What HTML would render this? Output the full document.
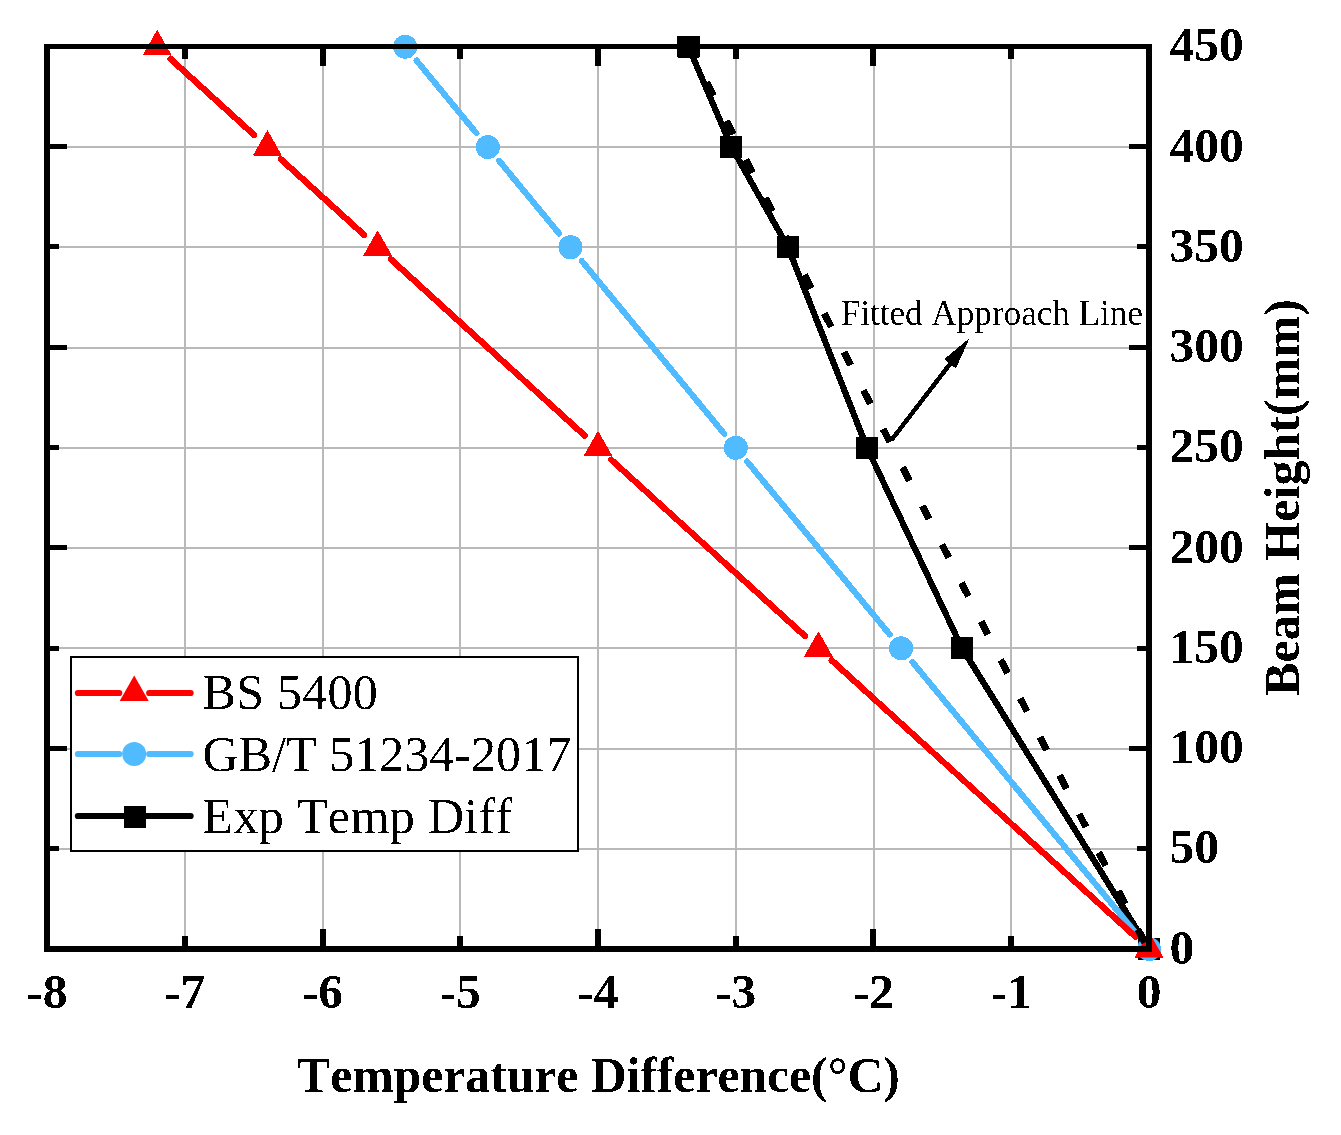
<!DOCTYPE html><html><head><meta charset="utf-8"><style>html,body{margin:0;padding:0;background:#fff;}svg{display:block;}text{font-family:"Liberation Serif",serif;font-variant-ligatures:none;font-feature-settings:"liga" 0,"kern" 0;}</style></head><body><svg width="1341" height="1135" viewBox="0 0 1341 1135"><defs><filter id="gs" x="0" y="0" width="1" height="1"><feOffset dx="0" dy="0"/></filter><filter id="bin" filterUnits="userSpaceOnUse" x="0" y="0" width="1341" height="1135" color-interpolation-filters="sRGB"><feComponentTransfer><feFuncA type="discrete" tableValues="0 1"/></feComponentTransfer></filter></defs><rect x="0" y="0" width="1341" height="1135" fill="#fff"/><rect x="184" y="49" width="2" height="897" fill="#b9b9b9"/><rect x="322" y="49" width="2" height="897" fill="#b9b9b9"/><rect x="459" y="49" width="2" height="897" fill="#b9b9b9"/><rect x="597" y="49" width="2" height="897" fill="#b9b9b9"/><rect x="735" y="49" width="2" height="897" fill="#b9b9b9"/><rect x="873" y="49" width="2" height="897" fill="#b9b9b9"/><rect x="1010" y="49" width="2" height="897" fill="#b9b9b9"/><rect x="50" y="848" width="1096" height="2" fill="#b9b9b9"/><rect x="50" y="748" width="1096" height="2" fill="#b9b9b9"/><rect x="50" y="647" width="1096" height="2" fill="#b9b9b9"/><rect x="50" y="547" width="1096" height="2" fill="#b9b9b9"/><rect x="50" y="447" width="1096" height="2" fill="#b9b9b9"/><rect x="50" y="347" width="1096" height="2" fill="#b9b9b9"/><rect x="50" y="246" width="1096" height="2" fill="#b9b9b9"/><rect x="50" y="146" width="1096" height="2" fill="#b9b9b9"/><g filter="url(#bin)"><line x1="688.50" y1="46.75" x2="731.48" y2="147.00" stroke="#000" stroke-width="6.2" stroke-linecap="round"/><line x1="731.48" y1="147.00" x2="787.96" y2="247.25" stroke="#000" stroke-width="6.2" stroke-linecap="round"/><line x1="787.96" y1="247.25" x2="867.03" y2="447.75" stroke="#000" stroke-width="6.2" stroke-linecap="round"/><line x1="867.03" y1="447.75" x2="962.07" y2="648.25" stroke="#000" stroke-width="6.2" stroke-linecap="round"/><line x1="962.07" y1="648.25" x2="1149.00" y2="949.00" stroke="#000" stroke-width="6.2" stroke-linecap="round"/><rect x="677.50" y="35.75" width="22" height="22" fill="#000"/><rect x="720.48" y="136.00" width="22" height="22" fill="#000"/><rect x="776.96" y="236.25" width="22" height="22" fill="#000"/><rect x="856.03" y="436.75" width="22" height="22" fill="#000"/><rect x="951.07" y="637.25" width="22" height="22" fill="#000"/><rect x="1138.00" y="938.00" width="22" height="22" fill="#000"/><line x1="416.60" y1="60.64" x2="476.35" y2="133.11" stroke="#50bbff" stroke-width="6.2" stroke-linecap="round"/><line x1="499.25" y1="160.89" x2="559.00" y2="233.36" stroke="#50bbff" stroke-width="6.2" stroke-linecap="round"/><line x1="581.90" y1="261.14" x2="724.30" y2="433.86" stroke="#50bbff" stroke-width="6.2" stroke-linecap="round"/><line x1="747.20" y1="461.64" x2="889.60" y2="634.36" stroke="#50bbff" stroke-width="6.2" stroke-linecap="round"/><line x1="912.50" y1="662.14" x2="1137.55" y2="935.11" stroke="#50bbff" stroke-width="6.2" stroke-linecap="round"/><circle cx="405.15" cy="46.75" r="12" fill="#50bbff"/><circle cx="487.80" cy="147.00" r="12" fill="#50bbff"/><circle cx="570.45" cy="247.25" r="12" fill="#50bbff"/><circle cx="735.75" cy="447.75" r="12" fill="#50bbff"/><circle cx="901.05" cy="648.25" r="12" fill="#50bbff"/><circle cx="1149.00" cy="949.00" r="12" fill="#50bbff"/><line x1="170.51" y1="58.86" x2="254.09" y2="134.89" stroke="#ff0000" stroke-width="6.2" stroke-linecap="round"/><line x1="280.71" y1="159.11" x2="364.29" y2="235.14" stroke="#ff0000" stroke-width="6.2" stroke-linecap="round"/><line x1="390.91" y1="259.36" x2="584.69" y2="435.64" stroke="#ff0000" stroke-width="6.2" stroke-linecap="round"/><line x1="611.31" y1="459.86" x2="805.09" y2="636.14" stroke="#ff0000" stroke-width="6.2" stroke-linecap="round"/><line x1="831.71" y1="660.36" x2="1135.69" y2="936.89" stroke="#ff0000" stroke-width="6.2" stroke-linecap="round"/><polygon points="157.20,29.75 171.70,55.25 142.70,55.25" fill="#ff0000"/><polygon points="267.40,130.00 281.90,155.50 252.90,155.50" fill="#ff0000"/><polygon points="377.60,230.25 392.10,255.75 363.10,255.75" fill="#ff0000"/><polygon points="598.00,430.75 612.50,456.25 583.50,456.25" fill="#ff0000"/><polygon points="818.40,631.25 832.90,656.75 803.90,656.75" fill="#ff0000"/><polygon points="1149.00,932.00 1163.50,957.50 1134.50,957.50" fill="#ff0000"/><line x1="688.5" y1="46.75" x2="1148" y2="949" stroke="#000" stroke-width="7" stroke-dasharray="15 28.2" stroke-dashoffset="3.2"/><line x1="891.5" y1="440" x2="950.1" y2="363.85" stroke="#000" stroke-width="4.5"/><polygon points="969.6,337.9 944.3,359.1 955.9,368.6" fill="#000"/></g><rect x="44" y="44" width="1108" height="5" fill="#000"/><rect x="44" y="946" width="1108" height="6" fill="#000"/><rect x="44" y="44" width="6" height="908" fill="#000"/><rect x="1146" y="44" width="6" height="908" fill="#000"/><rect x="182" y="49" width="6" height="10" fill="#000"/><rect x="182" y="936" width="6" height="10" fill="#000"/><rect x="320" y="49" width="6" height="17" fill="#000"/><rect x="320" y="929" width="6" height="17" fill="#000"/><rect x="457" y="49" width="6" height="10" fill="#000"/><rect x="457" y="936" width="6" height="10" fill="#000"/><rect x="595" y="49" width="6" height="17" fill="#000"/><rect x="595" y="929" width="6" height="17" fill="#000"/><rect x="733" y="49" width="6" height="10" fill="#000"/><rect x="733" y="936" width="6" height="10" fill="#000"/><rect x="870" y="49" width="6" height="17" fill="#000"/><rect x="870" y="929" width="6" height="17" fill="#000"/><rect x="1008" y="49" width="6" height="10" fill="#000"/><rect x="1008" y="936" width="6" height="10" fill="#000"/><rect x="50" y="846" width="9" height="5" fill="#000"/><rect x="1137" y="846" width="9" height="5" fill="#000"/><rect x="50" y="746" width="17" height="5" fill="#000"/><rect x="1129" y="746" width="17" height="5" fill="#000"/><rect x="50" y="646" width="9" height="5" fill="#000"/><rect x="1137" y="646" width="9" height="5" fill="#000"/><rect x="50" y="545" width="17" height="5" fill="#000"/><rect x="1129" y="545" width="17" height="5" fill="#000"/><rect x="50" y="445" width="9" height="5" fill="#000"/><rect x="1137" y="445" width="9" height="5" fill="#000"/><rect x="50" y="345" width="17" height="5" fill="#000"/><rect x="1129" y="345" width="17" height="5" fill="#000"/><rect x="50" y="244" width="9" height="5" fill="#000"/><rect x="1137" y="244" width="9" height="5" fill="#000"/><rect x="50" y="144" width="17" height="5" fill="#000"/><rect x="1129" y="144" width="17" height="5" fill="#000"/><g filter="url(#bin)"><text x="47.00" y="1008" font-size="49.5" font-weight="bold" text-anchor="middle">-8</text><text x="184.75" y="1008" font-size="49.5" font-weight="bold" text-anchor="middle">-7</text><text x="322.50" y="1008" font-size="49.5" font-weight="bold" text-anchor="middle">-6</text><text x="460.25" y="1008" font-size="49.5" font-weight="bold" text-anchor="middle">-5</text><text x="598.00" y="1008" font-size="49.5" font-weight="bold" text-anchor="middle">-4</text><text x="735.75" y="1008" font-size="49.5" font-weight="bold" text-anchor="middle">-3</text><text x="873.50" y="1008" font-size="49.5" font-weight="bold" text-anchor="middle">-2</text><text x="1011.25" y="1008" font-size="49.5" font-weight="bold" text-anchor="middle">-1</text><text x="1149.00" y="1008" font-size="49.5" font-weight="bold" text-anchor="middle">0</text><text x="1169.5" y="963.50" font-size="49.5" font-weight="bold">0</text><text x="1169.5" y="863.25" font-size="49.5" font-weight="bold">50</text><text x="1169.5" y="763.00" font-size="49.5" font-weight="bold">100</text><text x="1169.5" y="662.75" font-size="49.5" font-weight="bold">150</text><text x="1169.5" y="562.50" font-size="49.5" font-weight="bold">200</text><text x="1169.5" y="462.25" font-size="49.5" font-weight="bold">250</text><text x="1169.5" y="362.00" font-size="49.5" font-weight="bold">300</text><text x="1169.5" y="261.75" font-size="49.5" font-weight="bold">350</text><text x="1169.5" y="161.50" font-size="49.5" font-weight="bold">400</text><text x="1169.5" y="61.25" font-size="49.5" font-weight="bold">450</text><text x="598.5" y="1092" font-size="49.8" font-weight="bold" text-anchor="middle" textLength="602.9" lengthAdjust="spacing">Temperature Difference(°C)</text><text transform="translate(1299,497.5) rotate(-90)" x="0" y="0" font-size="50" font-weight="bold" text-anchor="middle" textLength="396.7" lengthAdjust="spacing">Beam Height(mm)</text><text x="840.8" y="324.7" font-size="35.3" textLength="302.2" lengthAdjust="spacing">Fitted Approach Line</text></g><rect x="71" y="657" width="507" height="194" fill="#fff" stroke="#000" stroke-width="2"/><line x1="77.9" y1="693" x2="119.19999999999999" y2="693" stroke="#ff0000" stroke-width="6.2" stroke-linecap="round"/><line x1="149.2" y1="693" x2="190.6" y2="693" stroke="#ff0000" stroke-width="6.2" stroke-linecap="round"/><polygon points="134.20,675.50 148.70,701.00 119.70,701.00" fill="#ff0000"/><line x1="77.9" y1="754" x2="119.19999999999999" y2="754" stroke="#50bbff" stroke-width="6.2" stroke-linecap="round"/><line x1="149.2" y1="754" x2="190.6" y2="754" stroke="#50bbff" stroke-width="6.2" stroke-linecap="round"/><circle cx="134.20" cy="754.00" r="12" fill="#50bbff"/><line x1="77.9" y1="816" x2="190.6" y2="816" stroke="#000" stroke-width="6.2" stroke-linecap="round"/><rect x="124.00" y="806.00" width="22" height="22" fill="#000"/><g filter="url(#bin)"><text x="202.5" y="709" font-size="50" textLength="175.3" lengthAdjust="spacing">BS 5400</text><text x="202.5" y="771.2" font-size="50" textLength="368.7" lengthAdjust="spacing">GB/T 51234-2017</text><text x="202.5" y="832.5" font-size="50" textLength="309.8" lengthAdjust="spacing">Exp Temp Diff</text></g></svg></body></html>
